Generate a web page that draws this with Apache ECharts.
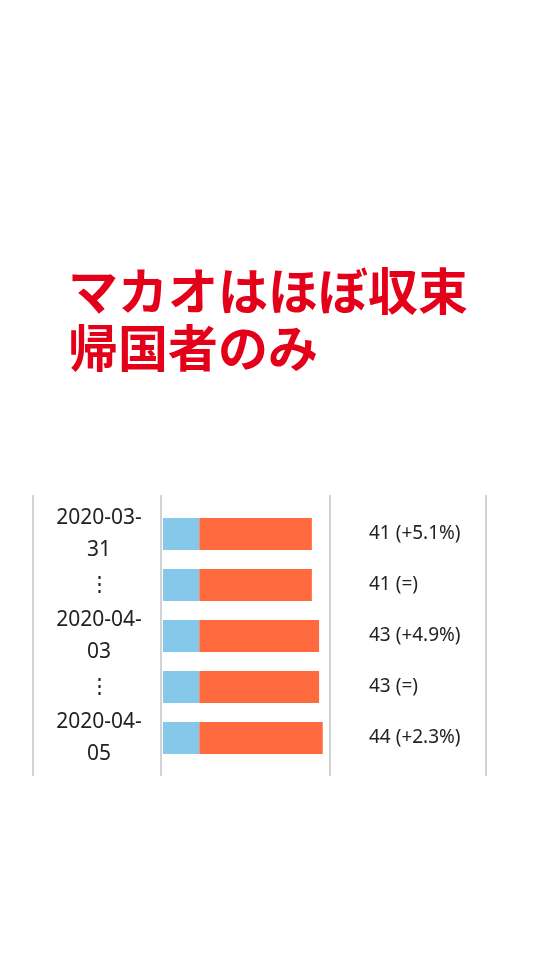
<!DOCTYPE html>
<html><head><meta charset="utf-8">
<script src="https://cdn.jsdelivr.net/npm/echarts@6/dist/echarts.min.js"></script>
<style>html,body{margin:0;padding:0;background:#fff}#c{width:540px;height:960px}</style>
</head><body><div id="c"></div>
<script>
const categories = ['2020-03-\n31', '⋮', '2020-04-\n03', '⋮', '2020-04-\n05'];
const recovered = [10, 10, 10, 10, 10];
const active = [31, 31, 33, 33, 34];
const valueLabels = ['41 (+5.1%)', '41 (=)', '43 (+4.9%)', '43 (=)', '44 (+2.3%)'];
const titleText = 'マカオはほぼ収束\n帰国者のみ';

const chart = echarts.init(document.getElementById('c'));
const lineStyle = {stroke: '#c4c4c4', lineWidth: 1.5};
const vx = [33, 161, 330, 486];
chart.setOption({
  animation: false,
  backgroundColor: '#fff',
  title: {
    text: titleText, left: 63, top: 257,
    textStyle: {color: '#e5001a', fontSize: 50, fontWeight: 600, lineHeight: 57,
      fontFamily: '"Noto Sans CJK JP", sans-serif'}
  },
  graphic: vx.map(x => ({type: 'line', shape: {x1: x, y1: 495, x2: x, y2: 776}, style: lineStyle, silent: true})),
  grid: {left: 163, width: 167, top: 508.5, height: 255},
  xAxis: {type: 'value', min: 0, max: 46, show: false},
  yAxis: [{
    type: 'category', data: categories, inverse: true,
    axisLine: {show: false}, axisTick: {show: false},
    axisLabel: {margin: 64, align: 'center', fontSize: 21, lineHeight: 32, color: '#222',
      fontFamily: '"Noto Sans", sans-serif'}
  }, {
    type: 'category', data: categories, inverse: true, position: 'right',
    axisLine: {show: false}, axisTick: {show: false},
    axisLabel: {margin: 39, align: 'left', fontSize: 19, color: '#222',
      fontFamily: '"Noto Sans", sans-serif',
      formatter: (v, i) => valueLabels[i]}
  }],
  series: [
    {type: 'bar', stack: 't', data: recovered, barWidth: 32, itemStyle: {color: '#86c8ea'}},
    {type: 'bar', stack: 't', data: active, barWidth: 32, itemStyle: {color: '#ff6b3f'}}
  ]
});
</script></body></html>
